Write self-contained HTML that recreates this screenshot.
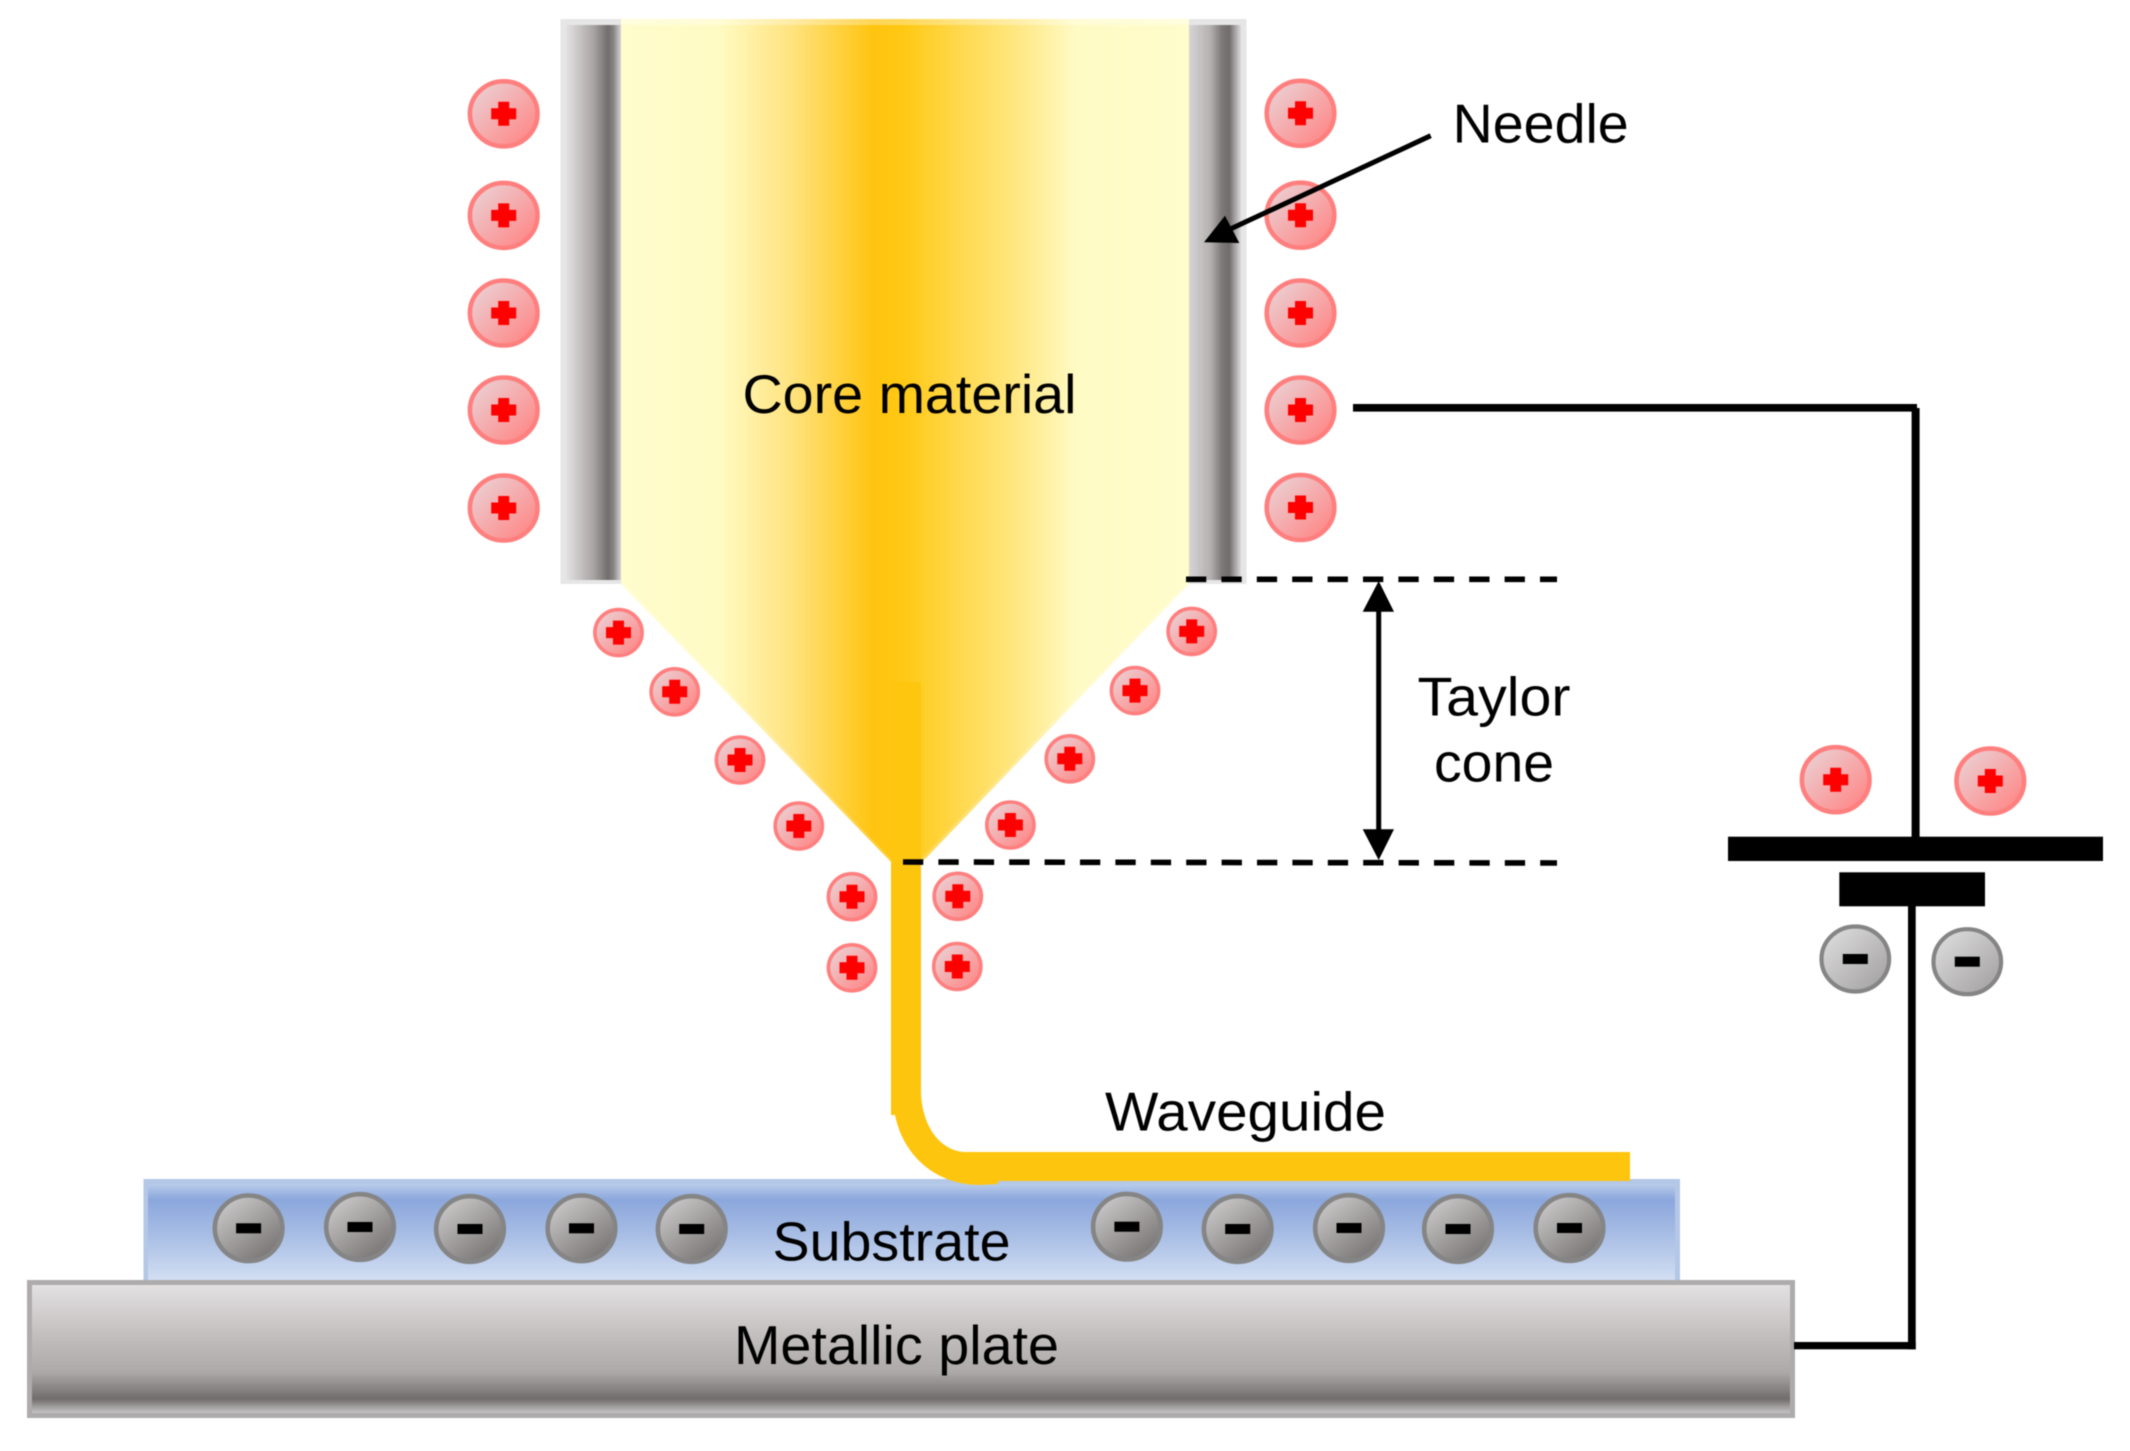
<!DOCTYPE html>
<html>
<head>
<meta charset="utf-8">
<style>
html,body{margin:0;padding:0;background:#fff;width:2130px;height:1451px;overflow:hidden}
svg{display:block;filter:blur(.6px)}
text{font-family:"Liberation Sans",Arial,sans-serif;font-size:54.5px;fill:#000}
</style>
</head>
<body>
<svg width="2130" height="1451" viewBox="0 0 2130 1451" xmlns="http://www.w3.org/2000/svg">
<defs>
<linearGradient id="core" gradientUnits="userSpaceOnUse" x1="621" y1="0" x2="1189" y2="0">
<stop offset="0" stop-color="#FFFDCD"/>
<stop offset=".171" stop-color="#FFFBC4"/>
<stop offset=".3" stop-color="#FFE37F"/>
<stop offset=".445" stop-color="#FFC40F"/>
<stop offset=".5" stop-color="#FFC915"/>
<stop offset=".6" stop-color="#FFD94F"/>
<stop offset=".695" stop-color="#FFE781"/>
<stop offset=".8" stop-color="#FFFBC5"/>
<stop offset="1" stop-color="#FFFDCD"/>
</linearGradient>
<linearGradient id="ndlL" x1="0" y1="0" x2="1" y2="0">
<stop offset="0" stop-color="#E4E2E3"/>
<stop offset=".5" stop-color="#A8A3A3"/>
<stop offset=".75" stop-color="#726D6D"/>
<stop offset=".85" stop-color="#8A8686"/>
<stop offset="1" stop-color="#E0DEDF"/>
</linearGradient>
<linearGradient id="ndlR" x1="0" y1="0" x2="1" y2="0">
<stop offset="0" stop-color="#D8D6D6"/>
<stop offset=".42" stop-color="#B5B1B1"/>
<stop offset=".64" stop-color="#7D7878"/>
<stop offset=".78" stop-color="#716C6C"/>
<stop offset="1" stop-color="#DDDBDC"/>
</linearGradient>
<linearGradient id="sub" x1="0" y1="0" x2="0" y2="1">
<stop offset="0" stop-color="#B9CCEA"/>
<stop offset=".16" stop-color="#8BA7DC"/>
<stop offset=".5" stop-color="#A6BCE4"/>
<stop offset="1" stop-color="#D3DFF3"/>
</linearGradient>
<linearGradient id="plate" x1="0" y1="0" x2="0" y2="1">
<stop offset="0" stop-color="#E3E1E2"/>
<stop offset=".4" stop-color="#C2BEBE"/>
<stop offset=".68" stop-color="#ADA9A9"/>
<stop offset=".89" stop-color="#716D6D"/>
<stop offset="1" stop-color="#C6C3C3"/>
</linearGradient>
<linearGradient id="pos" x1=".1" y1=".1" x2=".9" y2=".9">
<stop offset="0" stop-color="#EBCFD2"/>
<stop offset="1" stop-color="#FF8787"/>
</linearGradient>
<linearGradient id="neg" x1=".15" y1=".05" x2=".85" y2=".95">
<stop offset="0" stop-color="#CBC9C9"/>
<stop offset="1" stop-color="#767272"/>
</linearGradient>
<linearGradient id="neg2" x1=".1" y1=".1" x2=".9" y2=".9">
<stop offset="0" stop-color="#DCDBDB"/>
<stop offset="1" stop-color="#A5A3A3"/>
</linearGradient>
<polygon id="cross" fill="#FF0000" points="-5.5,-12 5.5,-12 5.5,-5.5 12.5,-5.5 12.5,5.5 5.5,5.5 5.5,12 -5.5,12 -5.5,5.5 -12.5,5.5 -12.5,-5.5 -5.5,-5.5"/>
<g id="pL"><ellipse rx="33.8" ry="32.5" fill="url(#pos)" stroke="#FF7F7F" stroke-width="4.6"/><use href="#cross"/></g>
<g id="pS"><ellipse rx="23.6" ry="23" fill="url(#pos)" stroke="#FF7F7F" stroke-width="3.6"/><use href="#cross"/></g>
<g id="nS"><ellipse rx="33.8" ry="32.8" fill="url(#neg)" stroke="#858585" stroke-width="4.6"/><rect x="-12.5" y="-5" width="25" height="10" fill="#000"/></g>
<g id="nB"><ellipse rx="33.8" ry="32.5" fill="url(#neg2)" stroke="#858585" stroke-width="4.2"/><rect x="-12.5" y="-5" width="25" height="10" fill="#000"/></g>
</defs>

<rect width="2130" height="1451" fill="#fff"/>

<!-- Needle walls -->
<rect x="560.5" y="19" width="62" height="565" fill="#E6E6E6"/>
<rect x="566" y="25" width="56" height="555" fill="url(#ndlL)"/>
<rect x="1188" y="19" width="58.5" height="565" fill="#E6E6E6"/>
<rect x="1188" y="25" width="53" height="555" fill="url(#ndlR)"/>

<!-- Core material -->
<polygon points="621,19 1189,19 1189,584 926,858 921,862 891,862 621,584" fill="url(#core)"/>
<rect x="621" y="19" width="568" height="6" fill="#fff" opacity=".3"/>
<path d="M621,584 L891,862 M1189,584 L921,862" stroke="#fff" stroke-opacity=".18" stroke-width="5" fill="none"/>
<rect x="891" y="682" width="30" height="182" fill="#FFC60F"/>

<!-- Substrate -->
<rect x="143.5" y="1179" width="1536.5" height="102" fill="#B4C7E7"/>
<rect x="148" y="1184" width="1527" height="97" fill="url(#sub)"/>

<!-- Waveguide -->
<path d="M891,860 L921,860 L921,1090 C921,1125 940,1152 966,1152 L1630,1152 L1630,1181 L998,1181 L998,1184 L980,1185 C935,1185 903,1155 895,1115 L891,1115 Z" fill="#FEC50F"/>

<!-- Metallic plate -->
<rect x="27" y="1280" width="1768" height="138" fill="#ADABAB"/>
<rect x="32" y="1285" width="1758" height="128" fill="url(#plate)"/>

<!-- Wires -->
<rect x="1353" y="404" width="564" height="7.6" fill="#000"/>
<rect x="1911.6" y="408" width="8" height="430" fill="#000"/>
<rect x="1728" y="836.7" width="375" height="24.3" fill="#000"/>
<rect x="1839.3" y="872.3" width="145.7" height="34" fill="#000"/>
<rect x="1908" y="906" width="7.7" height="443.3" fill="#000"/>
<rect x="1794" y="1342" width="121.7" height="7.3" fill="#000"/>

<!-- Positive ions, columns -->
<use href="#pL" x="503.7" y="113.8"/>
<use href="#pL" x="503.7" y="215.4"/>
<use href="#pL" x="503.7" y="313"/>
<use href="#pL" x="503.7" y="410"/>
<use href="#pL" x="503.7" y="508"/>
<use href="#pL" x="1300.5" y="113.3"/>
<use href="#pL" x="1300.5" y="215.2"/>
<use href="#pL" x="1300.5" y="313"/>
<use href="#pL" x="1300.5" y="410"/>
<use href="#pL" x="1300.5" y="507.5"/>

<!-- Positive ions, cone -->
<use href="#pS" x="618.5" y="632.6"/>
<use href="#pS" x="674.7" y="691.8"/>
<use href="#pS" x="740" y="760"/>
<use href="#pS" x="798.8" y="826"/>
<use href="#pS" x="852" y="896.7"/>
<use href="#pS" x="852" y="967.8"/>
<use href="#pS" x="1191.7" y="631.4"/>
<use href="#pS" x="1135" y="690.6"/>
<use href="#pS" x="1069.8" y="758.8"/>
<use href="#pS" x="1010.4" y="825"/>
<use href="#pS" x="957.8" y="896.3"/>
<use href="#pS" x="957.3" y="966.5"/>

<!-- Battery ions -->
<use href="#pL" x="1835.7" y="779.7"/>
<use href="#pL" x="1990.3" y="781"/>
<use href="#nB" x="1855.3" y="959"/>
<use href="#nB" x="1967.3" y="961.7"/>

<!-- Negative ions in substrate -->
<use href="#nS" x="248.6" y="1228.3"/>
<use href="#nS" x="360" y="1227"/>
<use href="#nS" x="470" y="1229"/>
<use href="#nS" x="581.5" y="1228.3"/>
<use href="#nS" x="691.7" y="1229"/>
<use href="#nS" x="1126.9" y="1226.7"/>
<use href="#nS" x="1237.7" y="1229"/>
<use href="#nS" x="1349" y="1228"/>
<use href="#nS" x="1458" y="1229"/>
<use href="#nS" x="1569.5" y="1228"/>

<!-- Dashed guides -->
<line x1="1186" y1="579.3" x2="1557" y2="579.3" stroke="#000" stroke-width="5.6" stroke-dasharray="20.3 15.1"/>
<line x1="903" y1="862" x2="1557" y2="863" stroke="#000" stroke-width="5.6" stroke-dasharray="20.3 15.1"/>

<!-- Double arrow -->
<rect x="1376.2" y="605" width="5" height="230" fill="#000"/>
<polygon points="1378.7,581 1394,611.7 1362.7,611.7" fill="#000"/>
<polygon points="1378.7,860 1394,829.3 1362.7,829.3" fill="#000"/>

<!-- Needle arrow -->
<line x1="1430.7" y1="135.7" x2="1226" y2="231" stroke="#000" stroke-width="5"/>
<polygon points="1225,215.7 1204,242.3 1239.3,243" fill="#000"/>

<!-- Labels -->
<text x="742.5" y="413" textLength="334" lengthAdjust="spacingAndGlyphs">Core material</text>
<text x="1452.7" y="142.7" textLength="176" lengthAdjust="spacingAndGlyphs">Needle</text>
<text x="1417.5" y="715.3" textLength="153" lengthAdjust="spacingAndGlyphs">Taylor</text>
<text x="1434" y="781.7" textLength="120" lengthAdjust="spacingAndGlyphs">cone</text>
<text x="1105" y="1130.7" textLength="281" lengthAdjust="spacingAndGlyphs">Waveguide</text>
<text x="772.5" y="1260.7" textLength="238" lengthAdjust="spacingAndGlyphs">Substrate</text>
<text x="734" y="1364" textLength="325" lengthAdjust="spacingAndGlyphs">Metallic plate</text>
</svg>
</body>
</html>
